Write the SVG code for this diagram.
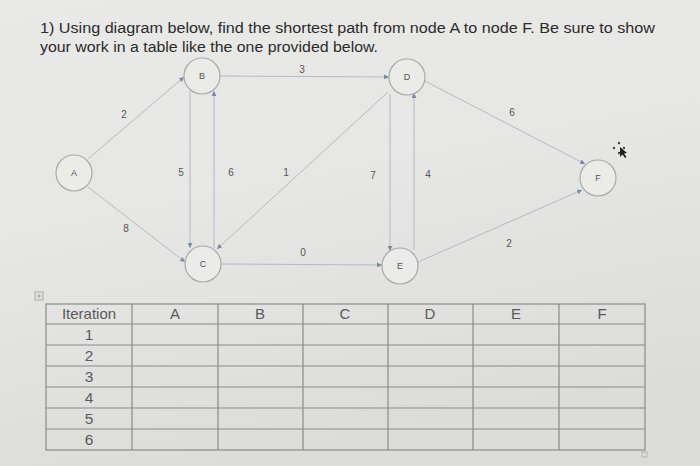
<svg xmlns="http://www.w3.org/2000/svg" width="700" height="466" viewBox="0 0 700 466">
<defs>
<linearGradient id="bg" x1="0" y1="0" x2="0.3" y2="1">
<stop offset="0" stop-color="#e9e9e7"/>
<stop offset="0.5" stop-color="#e6e6e4"/>
<stop offset="1" stop-color="#dcdcda"/>
</linearGradient>
<marker id="arr" markerWidth="5" markerHeight="5" refX="5" refY="2.5" orient="auto" markerUnits="userSpaceOnUse">
<path d="M0,0 L5,2.5 L0,5 Z" fill="#7d8aa3"/>
</marker>
</defs>
<style>
.title{font-family:"Liberation Sans",Arial,sans-serif;font-size:15.5px;fill:#2b2b2b}
.node circle{fill:#ebebe9;stroke:#a9a9a9;stroke-width:1.2}
.node text{font-family:"Liberation Sans",Arial,sans-serif;font-size:9px;fill:#555;text-anchor:middle}
.edge{stroke:#b4b9c4;stroke-width:1;fill:none;marker-end:url(#arr)}
.wt{font-family:"Liberation Sans",Arial,sans-serif;font-size:10px;fill:#555;text-anchor:middle}
.grid{stroke:#8a8a8a;stroke-width:1.2;fill:none}
.th{font-family:"Liberation Sans",Arial,sans-serif;font-size:15px;fill:#5a5a5a;text-anchor:middle}
.td{font-family:"Liberation Sans",Arial,sans-serif;font-size:15.5px;fill:#5a5a5a;text-anchor:middle}
</style>
<rect width="700" height="466" fill="url(#bg)"/>
<text class="title" x="40" y="33" textLength="615" lengthAdjust="spacingAndGlyphs">1) Using diagram below, find the shortest path from node A to node F.  Be sure to show</text>
<text class="title" x="40" y="52" textLength="338" lengthAdjust="spacingAndGlyphs">your work in a table like the one provided below.</text>

<g id="connectors">
<line class="edge" x1="88" y1="159" x2="184" y2="77"/>
<line class="edge" x1="88" y1="187" x2="185" y2="262"/>
<line class="edge" x1="190" y1="91" x2="190" y2="248"/>
<line class="edge" x1="214" y1="248" x2="214" y2="91"/>
<line class="edge" x1="220" y1="76" x2="389" y2="77"/>
<line class="edge" x1="388" y1="92" x2="217" y2="249"/>
<line class="edge" x1="221" y1="264" x2="382" y2="265"/>
<line class="edge" x1="390" y1="94" x2="390" y2="251"/>
<line class="edge" x1="414" y1="250" x2="414" y2="93"/>
<line class="edge" x1="423" y1="80" x2="585" y2="164"/>
<line class="edge" x1="418" y1="262" x2="582" y2="190"/>
<text class="wt" x="124" y="118">2</text>
<text class="wt" x="126" y="232">8</text>
<text class="wt" x="181" y="176">5</text>
<text class="wt" x="231" y="176">6</text>
<text class="wt" x="286" y="176">1</text>
<text class="wt" x="302" y="73">3</text>
<text class="wt" x="303" y="256">0</text>
<text class="wt" x="373" y="179">7</text>
<text class="wt" x="428" y="178">4</text>
<text class="wt" x="512" y="116">6</text>
<text class="wt" x="509" y="247">2</text>
</g>

<g id="node-A" class="node"><circle cx="74" cy="173" r="18"/><text x="74" y="176">A</text></g>
<g id="node-B" class="node"><circle cx="202" cy="76" r="18"/><text x="202" y="79">B</text></g>
<g id="node-C" class="node"><circle cx="203" cy="264" r="18"/><text x="203" y="267">C</text></g>
<g id="node-D" class="node"><circle cx="407" cy="77" r="18"/><text x="407" y="80">D</text></g>
<g id="node-E" class="node"><circle cx="400" cy="266" r="18"/><text x="400" y="269">E</text></g>
<g id="node-F" class="node"><circle cx="598" cy="178" r="18"/><text x="598" y="181">F</text></g>

<g id="cursor">
<circle cx="619" cy="143" r="1.2" fill="#444"/>
<circle cx="614" cy="148" r="1.2" fill="#444"/>
<circle cx="624" cy="148" r="1.2" fill="#444"/>
<circle cx="619" cy="153" r="1.2" fill="#444"/>
<path d="M620,147 L620,157 L622.5,154.5 L625,158 L626.5,157 L624,153.5 L627,153 Z" fill="#222"/>
</g>

<g id="table">
<rect x="35" y="292" width="8" height="8" fill="none" stroke="#999" stroke-width="0.8"/>
<path d="M39,294 V298 M37,296 H41" stroke="#999" stroke-width="0.8"/>
<rect class="grid" x="46" y="304" width="599" height="146"/>
<path class="grid" d="M46,324 H645 M46,345 H645 M46,366 H645 M46,387 H645 M46,408 H645 M46,429 H645"/>
<path class="grid" d="M132,304 V450 M218,304 V450 M303,304 V450 M388,304 V450 M473,304 V450 M559,304 V450"/>
<rect x="642" y="452" width="5" height="5" fill="none" stroke="#aaa" stroke-width="0.8"/>
<text class="th" x="89" y="319">Iteration</text>
<text class="th" x="175" y="319">A</text>
<text class="th" x="260" y="319">B</text>
<text class="th" x="345" y="319">C</text>
<text class="th" x="430" y="319">D</text>
<text class="th" x="516" y="319">E</text>
<text class="th" x="602" y="319">F</text>
<text class="td" x="89" y="340">1</text>
<text class="td" x="89" y="361">2</text>
<text class="td" x="89" y="382">3</text>
<text class="td" x="89" y="403">4</text>
<text class="td" x="89" y="424">5</text>
<text class="td" x="89" y="445">6</text>
</g>
</svg>
